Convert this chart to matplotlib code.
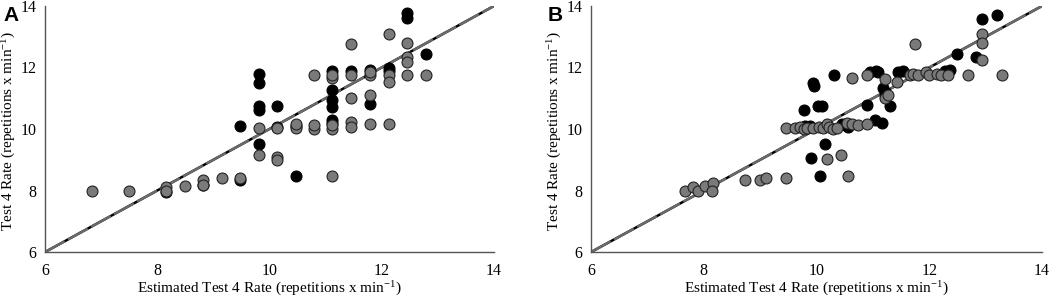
# scatter of estimated vs measured test 4 rate, two panels (A and B)
import matplotlib
matplotlib.use("Agg")
import matplotlib.pyplot as plt

# panel A - grey series
xA_grey = [6.84, 7.50, 8.16, 8.16, 8.49, 8.82, 8.82, 9.15, 9.47, 9.81, 9.81, 10.14, 10.14, 10.14,
           10.47, 10.47, 10.80, 10.80, 10.80, 11.12, 11.12, 11.12, 11.12, 11.12, 11.46, 11.46, 11.46,
           11.46, 11.46, 11.79, 11.79, 11.79, 11.79, 12.13, 12.13, 12.13, 12.13, 12.45, 12.45, 12.45,
           12.45, 12.78]
yA_grey = [8.00, 8.00, 8.10, 7.97, 8.16, 8.35, 8.19, 8.40, 8.42, 10.03, 9.16, 10.03, 9.10, 9.00,
           10.03, 10.17, 10.00, 10.13, 11.76, 10.00, 10.14, 11.65, 11.76, 8.46, 12.75, 11.76, 11.00,
           10.24, 10.05, 11.76, 11.85, 11.10, 10.17, 13.08, 11.76, 11.54, 10.17, 12.81, 12.35, 12.19,
           11.76, 11.76]

# panel A - black series
xA_black = [8.16, 8.82, 9.47, 9.47, 9.81, 9.81, 9.81, 9.81, 9.81, 10.14, 10.14, 10.47, 10.47,
            11.12, 11.12, 11.12, 11.12, 11.12, 11.12, 11.46, 11.79, 11.79, 12.13, 12.13, 12.45,
            12.45, 12.78]
yA_black = [7.95, 8.17, 8.35, 10.10, 11.79, 11.49, 10.75, 10.62, 9.52, 10.75, 10.08, 8.46, 10.10,
            11.87, 11.27, 10.95, 10.73, 10.30, 10.19, 11.87, 11.92, 10.82, 11.97, 11.87, 13.76,
            13.60, 12.44]

# panel B - grey series
xB_grey = [7.67, 7.81, 7.90, 8.03, 8.17, 8.15, 8.73, 9.00, 9.10, 9.46,
           9.46, 9.62, 9.71, 9.78, 9.83, 9.94, 10.05, 10.11, 10.18, 10.22, 10.30, 10.36, 10.54,
           10.63, 10.73, 10.89,
           10.18, 10.43, 10.56, 10.63, 10.90, 11.22, 11.21, 11.27, 11.42, 11.75,
           11.65, 11.71, 11.80, 11.95, 12.00, 12.13, 12.20, 12.33,
           12.69, 12.93, 12.93, 12.93, 13.29]
yB_grey = [8.00, 8.10, 8.00, 8.16, 8.24, 7.99, 8.35, 8.35, 8.40, 8.40,
           10.03, 10.03, 10.05, 10.00, 10.02, 10.04, 10.08, 10.03, 10.15, 10.06, 10.00, 10.04, 10.18,
           10.15, 10.12, 10.15,
           9.02, 9.16, 8.46, 11.65, 11.76, 11.63, 11.00, 11.10, 11.54, 12.75,
           11.76, 11.80, 11.76, 11.85, 11.76, 11.80, 11.76, 11.76,
           11.76, 13.08, 12.79, 12.25, 11.76]

# panel B - black series
xB_black = [9.91, 10.07, 10.15, 9.94, 9.95, 9.78, 10.03, 10.10, 10.31, 10.89, 10.95, 11.06, 11.09,
            11.04, 11.16, 11.18, 11.21, 11.30, 11.45, 11.53, 12.27, 12.36, 12.50, 12.82, 12.94,
            13.20, 9.80, 9.88, 10.45, 10.50, 10.55]
yB_black = [9.05, 8.46, 9.52, 11.49, 11.40, 10.62, 10.75, 10.75, 11.76, 10.79, 11.86, 11.90, 11.86,
            10.30, 10.21, 11.34, 11.11, 10.75, 11.85, 11.90, 11.88, 11.92, 12.44, 12.35, 13.58,
            13.71, 10.10, 10.10, 10.15, 10.12, 10.05]

line_x = [6, 14]

plt.rcParams['font.family'] = ['Liberation Serif', 'DejaVu Serif']
# superscript in the same serif font as the rest
plt.rcParams['mathtext.fontset'] = 'custom'
plt.rcParams['mathtext.rm'] = 'Liberation Serif'
plt.rcParams['mathtext.it'] = 'Liberation Serif:italic'
plt.rcParams['mathtext.bf'] = 'Liberation Serif:bold'

fig = plt.figure(figsize=(10.56, 2.99), dpi=100)
axA = fig.add_axes([0.0426, 0.157, 0.4252, 0.823])
axB = fig.add_axes([0.5597, 0.157, 0.4271, 0.823])

panels = [
    (axA, xA_black, yA_black, xA_grey, yA_grey, 'A', 0.003),
    (axB, xB_black, yB_black, xB_grey, yB_grey, 'B', 0.519),
]

for ax, xb, yb, xg, yg, letter, lx in panels:
    # line of identity: black underneath, grey dashes on top
    ax.plot(line_x, line_x, color='black', lw=1.8, zorder=1)
    ax.plot(line_x, line_x, color='#6a6a6a', lw=1.8, dashes=(9, 1.5), zorder=2)

    ax.scatter(xb, yb, s=62, color='black', edgecolor='black', linewidth=0.8, zorder=3)
    ax.scatter(xg, yg, s=62, color='#7a7a7a', edgecolor='#222222', linewidth=0.8, zorder=4)

    ax.set_xlim(6, 14)
    ax.set_ylim(6, 14)
    ax.set_xticks([6, 8, 10, 12, 14])
    ax.set_yticks([6, 8, 10, 12, 14])
    ax.tick_params(axis='x', length=0, labelsize=11.5, pad=8)
    ax.tick_params(axis='y', length=0, labelsize=11.5, pad=6)

    for side in ['top', 'right']:
        ax.spines[side].set_visible(False)
    for side in ['left', 'bottom']:
        ax.spines[side].set_color('#555555')
        ax.spines[side].set_linewidth(1.0)

    ax.set_xlabel('Estimated Test 4 Rate (repetitions x min$^{\\mathrm{-1}}$)', fontsize=11)
    ax.set_ylabel('Test 4 Rate (repetitions x min$^{\\mathrm{-1}}$)', fontsize=11)
    ax.xaxis.set_label_coords(0.5, -0.112)
    ax.yaxis.set_label_coords(-0.06, 0.49)

    fig.text(lx, 0.98, letter, fontsize=15, fontweight='bold', family='Liberation Sans',
             va='top', ha='left')

fig.savefig('out.png', dpi=100)
